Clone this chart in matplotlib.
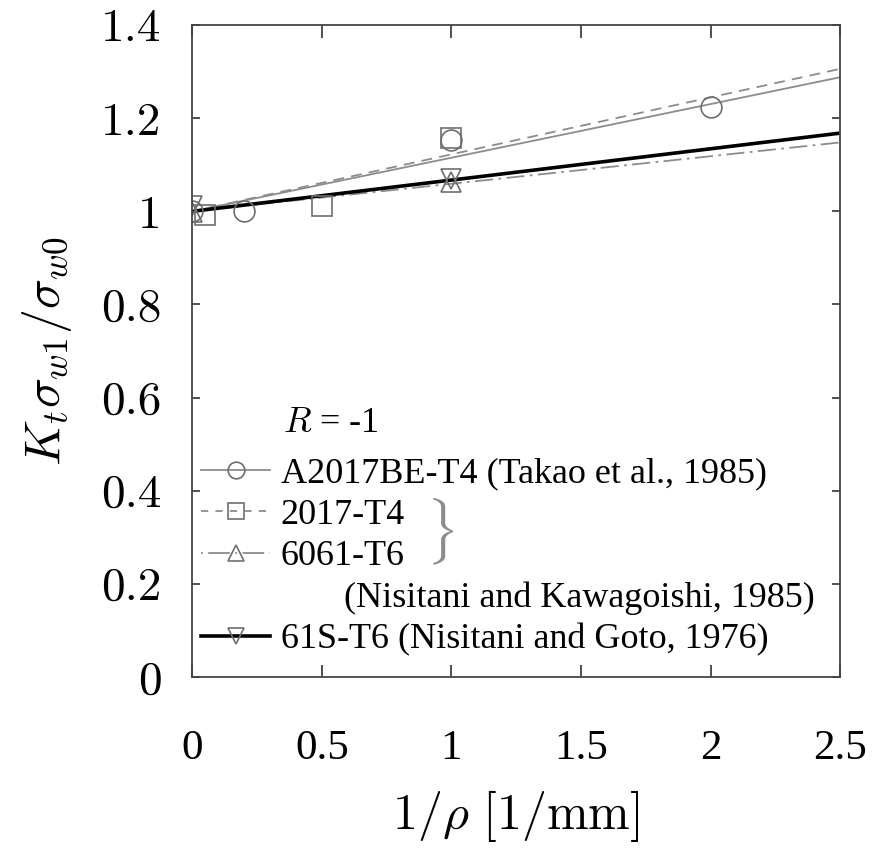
import numpy as np
import matplotlib.pyplot as plt
from matplotlib.lines import Line2D

plt.rcParams['mathtext.fontset'] = 'cm'
plt.rcParams['font.family'] = ['Liberation Serif', 'DejaVu Serif']

# measured points
x_a2017be = [0.0, 0.2, 1.0, 2.0]
y_a2017be = [1.0, 1.0, 1.153, 1.224]
x_2017 = [0.05, 0.5, 1.0]
y_2017 = [0.993, 1.012, 1.157]
x_6061 = [0.0, 1.0]
y_6061 = [0.998, 1.063]
x_61s = [0.0, 1.0]
y_61s = [1.012, 1.07]

# fitted lines
fit_x = [0.0, 2.5]
fit_a2017be = [1.0, 1.288]
fit_2017 = [1.0, 1.306]
fit_6061 = [1.0, 1.148]
fit_61s = [1.0, 1.168]

xticks = [0, 0.5, 1, 1.5, 2, 2.5]
xlabels = ['0', '0.5', '1', '1.5', '2', '2.5']
yticks = [0, 0.2, 0.4, 0.6, 0.8, 1.0, 1.2, 1.4]
ylabels = ['0', '0.2', '0.4', '0.6', '0.8', '1', '1.2', '1.4']

gray = '#8c8c8c'
mgray = '#6e6e6e'

fig = plt.figure(figsize=(8.78, 8.5), dpi=100)
ax = fig.add_axes([0.219, 0.2035, 0.738, 0.767])

mk = dict(markersize=15, markerfacecolor='none', markeredgecolor=mgray, markeredgewidth=1.2)

ax.plot(fit_x, fit_a2017be, color=gray, lw=1.3)
ax.plot(fit_x, fit_2017, color=gray, lw=1.3, ls=(0, (6, 4)))
ax.plot(fit_x, fit_6061, color=gray, lw=1.3, ls=(0, (10, 3, 1.5, 3)))
ax.plot(fit_x, fit_61s, color='black', lw=2.6)

ax.plot(x_a2017be, y_a2017be, ls='none', marker='o', **mk)
ax.plot(x_2017, y_2017, ls='none', marker='s', **mk)
ax.plot(x_6061, y_6061, ls='none', marker='^', **mk)
ax.plot(x_61s, y_61s, ls='none', marker='v', **mk)

ax.set_xlim(0, 2.5)
ax.set_ylim(0, 1.4)
ax.set_xticks(xticks)
ax.set_xticklabels(xlabels, fontsize=31)
ax.set_yticks(yticks)
ax.set_yticklabels(ylabels, fontsize=34, family='cmr10')
ax.tick_params(axis='x', direction='in', length=9, width=1.2, top=True, pad=38, colors='#333333')
ax.tick_params(axis='y', direction='in', length=6, width=1.2, right=True, pad=22, colors='#333333')
for lab in ax.get_xticklabels() + ax.get_yticklabels():
    lab.set_color('black')
for s in ax.spines.values():
    s.set_linewidth(1.3)
    s.set_color('#444444')

ax.set_xlabel(r'$1/\rho\ [1/\mathrm{mm}]$', fontsize=36, labelpad=14)
ax.set_ylabel(r'$K_t\sigma_{w1}/\sigma_{w0}$', fontsize=36, labelpad=20)

handles = [
    Line2D([], [], color=gray, lw=1.3, marker='o', **mk),
    Line2D([], [], color=gray, lw=1.3, ls=(0, (4, 4)), marker='s', **mk),
    Line2D([], [], color=gray, lw=1.3, ls=(0, (1, 3, 12, 3)), marker='^', **mk),
    Line2D([], [], ls='none'),
    Line2D([], [], color='black', lw=2.6, marker='v', **mk),
]
labels = [
    'A2017BE-T4 (Takao et al., 1985)',
    '2017-T4',
    '6061-T6',
    '       (Nisitani and Kawagoishi, 1985)',
    '61S-T6 (Nisitani and Goto, 1976)',
]
for h in handles:
    h.set_markersize(12)
leg = ax.legend(handles, labels, loc='lower left', bbox_to_anchor=(0.014, 0.031),
                frameon=False, fontsize=26, handlelength=1.9, handletextpad=0.3,
                labelspacing=0.23, borderaxespad=0.0, borderpad=0.0)

ax.text(0.14, 0.389, r'$R$ = -1', transform=ax.transAxes, fontsize=26,
        ha='left', va='center')
ax.text(0.36, 0.222, r'$\}$', transform=ax.transAxes, fontsize=40, color=gray,
        ha='left', va='center')

fig.savefig('out.png', dpi=100)
